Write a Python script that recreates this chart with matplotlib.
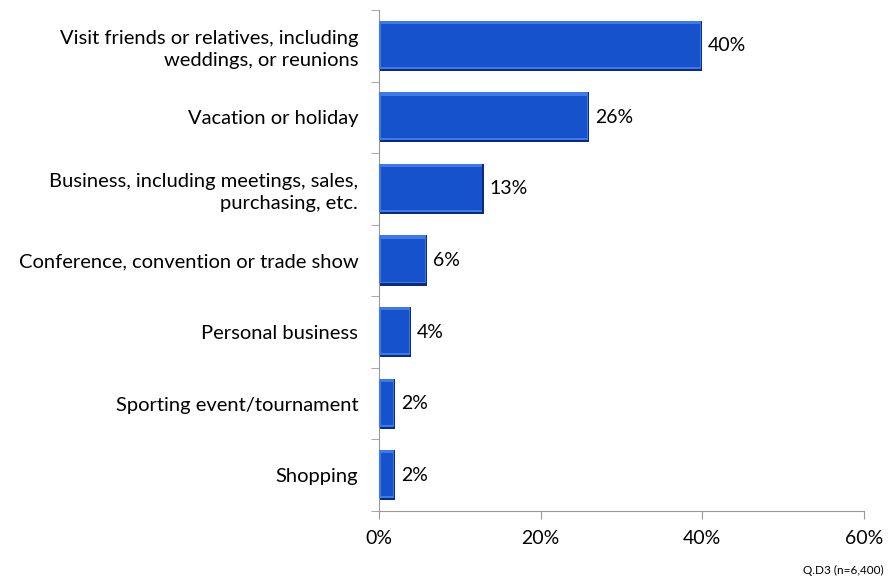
import numpy as np
import matplotlib.pyplot as plt

plt.rcParams['font.family'] = ['Lato', 'DejaVu Sans']

categories = ['Visit friends or relatives, including\nweddings, or reunions',
              'Vacation or holiday',
              'Business, including meetings, sales,\npurchasing, etc.',
              'Conference, convention or trade show',
              'Personal business',
              'Sporting event/tournament',
              'Shopping']
values = [40, 26, 13, 6, 4, 2, 2]
labels = ['40%', '26%', '13%', '6%', '4%', '2%', '2%']

fig = plt.figure(figsize=(8.93, 5.88), dpi=100)
ax = fig.add_axes([0.4244, 0.131, 0.5431, 0.852])

y = np.arange(len(categories))
h = 0.7
vals = np.array(values, dtype=float)

# bevelled bars: dark base, light top/left rim, main face
ax.barh(y, vals, height=h, color='#0b2c7e', zorder=2)
ax.barh(y - 0.015, vals - 0.2, height=h - 0.03, color='#3f78e8', zorder=3)
ax.barh(y - 0.005, vals - 0.55, left=0.25, height=h - 0.1, color='#1552cc', zorder=4)

for yi, v, lab in zip(y, vals, labels):
    ax.text(v + 0.7, yi, lab, va='center', ha='left', fontsize=14)

ax.set_xlim(0, 60)
ax.set_ylim(len(categories) - 0.5, -0.5)
ax.set_xticks([0, 20, 40, 60])
ax.set_xticklabels(['0%', '20%', '40%', '60%'], fontsize=14)
ax.set_yticks(y)
ax.set_yticklabels(categories, fontsize=14.5, linespacing=1.35)
ax.tick_params(axis='y', length=0, pad=15)
ax.set_yticks(np.arange(-0.5, len(categories), 1), minor=True)
ax.tick_params(axis='y', which='minor', length=6, color='#999999')
ax.tick_params(axis='x', length=6, color='#999999', pad=8)

for s in ['top', 'right']:
    ax.spines[s].set_visible(False)
for s in ['left', 'bottom']:
    ax.spines[s].set_color('#999999')

fig.text(0.99, 0.02, 'Q.D3 (n=6,400)', ha='right', va='bottom', fontsize=8.5)

plt.savefig('out.png', dpi=100)
